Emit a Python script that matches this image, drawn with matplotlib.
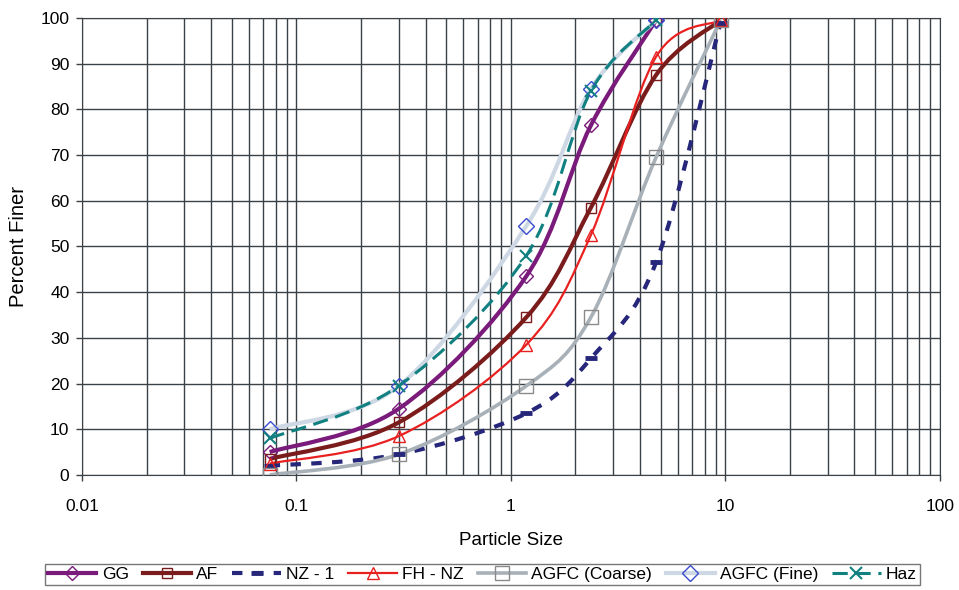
import numpy as np
import matplotlib
matplotlib.use('Agg')
import matplotlib.pyplot as plt
from matplotlib.path import Path
from matplotlib.patches import PathPatch
from matplotlib.ticker import LogLocator, NullFormatter

plt.rcParams['font.family'] = ['Liberation Sans', 'DejaVu Sans']

sieve = [0.075, 0.3, 1.18, 2.36, 4.75, 9.5]

gg = [5.0, 14.5, 43.5, 76.5, 99.5]
af = [3.5, 11.5, 34.5, 58.5, 87.5, 99.5]
nz1 = [2.0, 4.5, 13.5, 25.5, 46.5, 99.0]
fhnz = [2.5, 8.5, 28.5, 52.5, 91.5, 99.5]
agfc_coarse = [0.0, 4.5, 19.5, 34.5, 69.5, 99.5]
agfc_fine = [10.0, 19.5, 54.5, 84.5, 99.5]
haz = [8.0, 19.5, 48.0, 84.0, 99.5]


def smooth_path(xs, ys):
    # Excel-style smoothed line: cubic bezier through the points, done in log-x space
    p = np.column_stack([np.log10(xs), ys])
    n = len(p)
    verts = [p[0]]
    codes = [Path.MOVETO]
    for i in range(n - 1):
        p0 = p[i - 1] if i > 0 else p[i]
        p1 = p[i]
        p2 = p[i + 1]
        p3 = p[i + 2] if i + 2 < n else p[i + 1]
        c1 = p1 + (p2 - p0) / 6.0
        c2 = p2 - (p3 - p1) / 6.0
        verts += [c1, c2, p2]
        codes += [Path.CURVE4] * 3
    verts = np.array(verts)
    verts[:, 0] = 10 ** verts[:, 0]
    return Path(verts, codes)


fig = plt.figure(figsize=(9.59, 5.9), dpi=100)
ax = fig.add_axes([0.0855, 0.195, 0.8945, 0.7745])
ax.set_xscale('log')
ax.set_xlim(0.01, 100)
ax.set_ylim(0, 100)

series = [
    ('GG', gg, dict(color='#7a1a7a', lw=3.0, ls='-'), dict(marker='D', ms=7, mec='#7a1a7a')),
    ('AF', af, dict(color='#7a1c1c', lw=3.0, ls='-'), dict(marker='s', ms=7, mec='#7a1c1c')),
    ('NZ - 1', nz1, dict(color='#26267a', lw=3.0, ls=(0, (2.5, 2.5))), dict(marker='_', ms=9, mew=3.5, mec='#26267a')),
    ('FH - NZ', fhnz, dict(color='#e82020', lw=1.6, ls='-'), dict(marker='^', ms=8, mec='#e82020')),
    ('AGFC (Coarse)', agfc_coarse, dict(color='#a8b0b8', lw=2.6, ls='-'), dict(marker='s', ms=10, mec='#8a8a8a')),
    ('AGFC (Fine)', agfc_fine, dict(color='#cdd8e4', lw=3.0, ls='-'), dict(marker='D', ms=8, mec='#3a4ccc')),
    ('Haz', haz, dict(color='#108080', lw=2.2, ls=(0, (5, 2.5))), dict(marker='x', ms=8, mew=1.5, mec='#108080')),
]

handles = []
for name, vals, lst, mst in series:
    xs = sieve[:len(vals)]
    patch = PathPatch(smooth_path(xs, vals), fill=False, edgecolor=lst['color'],
                      lw=lst['lw'], ls=lst['ls'], zorder=3, capstyle='butt')
    ax.add_patch(patch)
    ax.plot(xs, vals, ls='none', mfc='none', zorder=4, **mst)
    h, = ax.plot([], [], color=lst['color'], lw=lst['lw'], ls=lst['ls'], mfc='none', **mst)
    handles.append(h)

ax.xaxis.set_major_locator(LogLocator(base=10))
ax.xaxis.set_minor_locator(LogLocator(base=10, subs=np.arange(2, 10)))
ax.xaxis.set_minor_formatter(NullFormatter())
ax.set_xticks([0.01, 0.1, 1, 10, 100])
ax.set_xticklabels(['0.01', '0.1', '1', '10', '100'])
ax.set_yticks(np.arange(0, 101, 10))
ax.grid(True, which='major', color='#3a4248', lw=1.0)
ax.grid(True, which='minor', axis='x', color='#3a4248', lw=1.0)
ax.set_axisbelow(True)
for s in ax.spines.values():
    s.set_color('#3a4248')
ax.tick_params(which='major', length=4, width=1, color='#3a4248', labelsize=12.5)
ax.tick_params(which='minor', length=0)
ax.tick_params(axis='x', which='major', pad=13)
ax.tick_params(axis='y', which='major', pad=5)
ax.set_xlabel('Particle Size', fontsize=13.5, labelpad=13)
ax.set_ylabel('Percent Finer', fontsize=14.5, labelpad=9)

fig.legend(handles=handles, labels=[s[0] for s in series], loc='lower center',
           bbox_to_anchor=(0.503, -0.006), ncol=7, frameon=True, fancybox=False,
           edgecolor='#555555', fontsize=12.5, handlelength=2.8, handletextpad=0.3,
           columnspacing=0.8, borderpad=0.15)

fig.savefig('out.png', dpi=100)
